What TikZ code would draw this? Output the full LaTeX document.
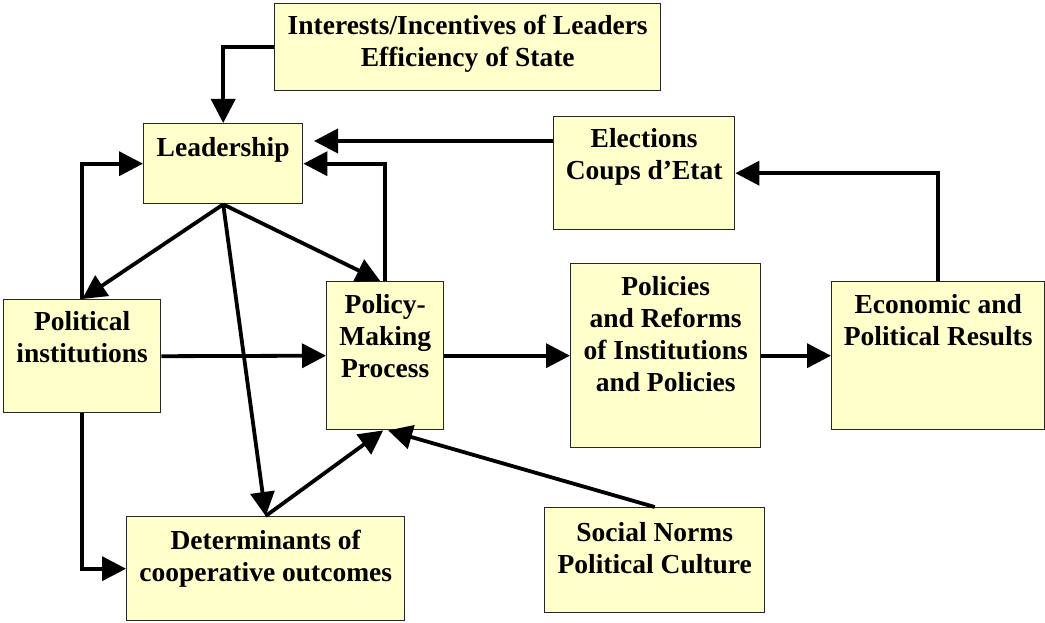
\documentclass[tikz,border=0pt]{standalone}
\usepackage{fontspec}
\setmainfont{Liberation Serif}
\usetikzlibrary{arrows.meta,positioning}
\definecolor{boxyellow}{HTML}{FFFFCC}
\tikzset{
  box/.style={draw=black!85, line width=1.4pt, fill=boxyellow, anchor=north west, inner sep=0pt},
  txt/.style={align=center, inner sep=0pt, font=\fontsize{27.5}{32}\selectfont\bfseries},
  arr/.style={line width=3.8pt, -{Triangle[length=24pt,width=24pt]}},
}

\begin{document}
\begin{tikzpicture}[x=1pt, y=-1pt]%
  \useasboundingbox (0,0) rectangle (1045,623);%
  % boxes: name/left/top/width/height
  \foreach \n/\x/\y/\w/\h in {intr/274/3/386/87, lead/143/123/159/80, elec/553/116/181/113,
      pinst/3/299/157/113, pmp/326/281/117/148, polr/570/263/190/184,
      econ/831/281/213/148, det/126/516/278/104, soc/544/507/220/105}{%
    \node[box, minimum width=\w pt, minimum height=\h pt] (\n) at (\x,\y) {};
  }
  % texts
  \node[txt, below=12pt of intr.north] (intr-t) {Interests/Incentives of Leaders\\Efficiency of State};
  \node[txt, below=14pt of lead.north] (lead-t) {Leadership};
  \node[txt, below=12pt of elec.north] (elec-t) {Elections\\Coups d’Etat};
  \node[txt, below=12pt of pinst.north] (pinst-t) {Political\\institutions};
  \node[txt, below=13pt of pmp.north] (pmp-t) {Policy-\\Making\\Process};
  \node[txt, below=13pt of polr.north] (polr-t) {Policies\\and Reforms\\of Institutions\\and Policies};
  \node[txt, below=13pt of econ.north] (econ-t) {Economic and\\Political Results};
  \node[txt, below=14pt of det.north] (det-t) {Determinants of\\cooperative outcomes};
  \node[txt, below=15pt of soc.north] (soc-t) {Social Norms\\Political Culture};
  % arrows
  \coordinate (lead-in) at (314,141);
  \draw[arr] (intr.west) -| (lead.north);
  \draw[arr] (elec.west |- lead-in) -- (lead-in);
  \draw[arr] (pinst.north) |- (lead.west);
  \draw[arr] (pmp.north) |- (lead.east);
  \draw[arr] (econ.north) |- (elec.east);
  \draw[arr] (lead.south) -- (pinst.north);
  \draw[arr] (lead.south) -- ([xshift=-5pt]pmp.north);
  \draw[arr] (lead.south) -- (det.north);
  \draw[arr] (det.north) -- ([xshift=-2pt]pmp.south);
  \draw[arr] (soc.north) -- ([xshift=3pt]pmp.south);
  \draw[arr] (pinst.south) |- (det.west);
  \foreach \a/\b in {pinst/pmp, pmp/polr, polr/econ}{\draw[arr] (\a.east) -- (\b.west);}
\end{tikzpicture}
\end{document}
